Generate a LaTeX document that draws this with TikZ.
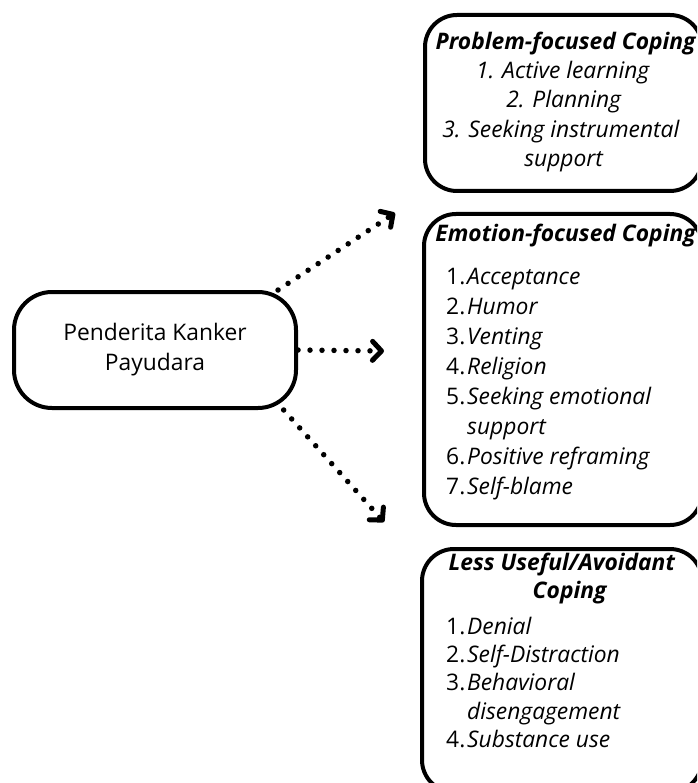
\documentclass[tikz,border=0pt]{standalone}
\usepackage{fontspec}
\setmainfont{Open Sans}
\usetikzlibrary{arrows.meta}
\begin{document}
\begin{tikzpicture}[x=1pt,y=-1pt]
\tikzset{
 box/.style={draw, line width=4pt, rounded corners=32pt, inner sep=0pt},
 srcbox/.style={draw, line width=4pt, rounded corners=38pt, align=center, inner sep=0pt,
   minimum width=282pt, minimum height=116pt, font=\fontsize{22.8}{30}\selectfont},
 ln/.style={inner sep=0pt, anchor=base, font=\fontsize{22.8}{26}\selectfont},
 item/.style={inner sep=0pt, anchor=base west, font=\fontsize{22.8}{26}\selectfont},
 dotarrow/.style={line width=5.5pt, line cap=round, dash pattern=on 0pt off 12pt,
   -{Straight Barb[length=9pt,width=19pt,line width=5pt,round]}}
}
\newcommand{\num}[1]{\makebox[21pt][l]{#1}}
\useasboundingbox (0,0) rectangle (697,783);
\clip (0,0) rectangle (697,783);

% source
\node[srcbox] (src) at (155,350) {Penderita Kanker\\Payudara};

% boxes
\node[box, minimum width=277pt, minimum height=176pt] (b1) at (563.5,103) {};
\node[box, minimum width=278pt, minimum height=311pt] (b2) at (563,369.5) {};
\node[box, minimum width=280pt, minimum height=243pt] (b3) at (562,670.5) {};

% box 1 text
\node[ln] (b1t) at (566,50) {\textbf{\textit{Problem-focused Coping}}};
\node[ln] (b1a) at (563,79) {\textit{1. Active learning}};
\node[ln] (b1b) at (564,108) {\textit{2. Planning}};
\node[ln] (b1c) at (561,138) {\textit{3. Seeking instrumental}};
\node[ln] (b1d) at (564,167) {\textit{support}};

% box 2 text
\node[ln] (b2t) at (566,242) {\textbf{\textit{Emotion-focused Coping}}};
\node[item] (b2a) at (446,284) {\num{1.}\textit{Acceptance}};
\node[item] (b2b) at (446,314) {\num{2.}\textit{Humor}};
\node[item] (b2c) at (446,344) {\num{3.}\textit{Venting}};
\node[item] (b2d) at (446,374) {\num{4.}\textit{Religion}};
\node[item] (b2e) at (446,404) {\num{5.}\textit{Seeking emotional}};
\node[item] (b2f) at (446,434) {\num{}\textit{support}};
\node[item] (b2g) at (446,464) {\num{6.}\textit{Positive reframing}};
\node[item] (b2h) at (446,494) {\num{7.}\textit{Self-blame}};

% box 3 text
\node[ln] (b3t) at (562,570) {\textbf{\textit{Less Useful/Avoidant}}};
\node[ln] (b3u) at (570,598) {\textbf{\textit{Coping}}};
\node[item] (b3a) at (446,634) {\num{1.}\textit{Denial}};
\node[item] (b3b) at (446,662) {\num{2.}\textit{Self-Distraction}};
\node[item] (b3c) at (446,690) {\num{3.}\textit{Behavioral}};
\node[item] (b3d) at (446,719) {\num{}\textit{disengagement}};
\node[item] (b3e) at (446,747) {\num{4.}\textit{Substance use}};

% arrows
\coordinate (tip1) at (395,213);
\coordinate (tip2) at (384,351);
\coordinate (tip3) at (384,522);
\draw[dotarrow] (src.26) -- (tip1);
\draw[dotarrow] (src.east) -- (tip2);
\draw[dotarrow] (src.-25) -- (tip3);
\end{tikzpicture}
\end{document}
